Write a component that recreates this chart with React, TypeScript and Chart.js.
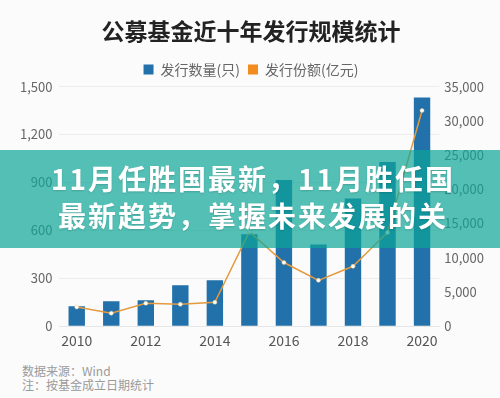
import React, { useEffect, useRef } from "react";
import { Chart, registerables } from "chart.js";

Chart.register(...registerables);

const years = ["2010", "2011", "2012", "2013", "2014", "2015", "2016", "2017", "2018", "2019", "2020"];
const fundCount = [125, 156, 162, 256, 288, 575, 915, 512, 800, 1028, 1432];
const issueAmount = [2800, 1900, 3350, 3200, 3500, 13800, 9300, 6700, 8750, 13700, 31500];
const leftTicks = [0, 300, 600, 900, 1200, 1500];
const rightTicks = [0, 5000, 10000, 15000, 20000, 25000, 30000, 35000];

const titleText = "公募基金近十年发行规模统计";
const countLabel = "发行数量(只)";
const amountLabel = "发行份额(亿元)";
const bannerLine1 = "11月任胜国最新，11月胜任国";
const bannerLine2 = "最新趋势，掌握未来发展的关";
const note1 = "数据来源：Wind";
const note2 = "注：按基金成立日期统计";

const FONT = "'Noto Sans CJK SC', 'Noto Sans', sans-serif";

export default function App() {
  const ref = useRef<HTMLCanvasElement | null>(null);

  useEffect(() => {
    document.body.style.margin = "0";
    const canvas = ref.current;
    if (!canvas) return;
    const chart = new Chart(canvas, {
      type: "bar",
      data: {
        labels: years,
        datasets: [
          {
            type: "bar",
            label: countLabel,
            data: fundCount,
            backgroundColor: "#2271aa",
            yAxisID: "y",
            barPercentage: 0.95,
            categoryPercentage: 0.5,
            order: 2,
          },
          {
            type: "line",
            label: amountLabel,
            data: issueAmount,
            borderColor: "#e49a3e",
            backgroundColor: "#f28c1e",
            borderWidth: 1.5,
            pointRadius: 2,
            pointBackgroundColor: "#ffffff",
            pointBorderColor: "#f0c890",
            pointBorderWidth: 0.5,
            yAxisID: "y1",
            tension: 0,
            order: 1,
          } as any,
        ],
      },
      options: {
        responsive: false,
        animation: false,
        devicePixelRatio: 1,
        layout: { padding: { top: 0, left: 13, right: 11, bottom: 5 } },
        plugins: {
          title: {
            display: true,
            text: titleText,
            color: "#222222",
            font: { family: FONT, size: 23, weight: "bold" },
            padding: { top: 17, bottom: 10 },
          },
          legend: {
            display: true,
            labels: {
              boxWidth: 10,
              boxHeight: 10,
              color: "#666666",
              font: { family: FONT, size: 14 },
              padding: 8,
              generateLabels: (c: any) => {
                const ds = c.data.datasets;
                return ds.map((d: any, i: number) => ({
                  text: d.label,
                  fillStyle: i === 0 ? "#2271aa" : "#f28c1e",
                  strokeStyle: i === 0 ? "#2271aa" : "#f28c1e",
                  lineWidth: 0,
                  fontColor: "#666666",
                  hidden: false,
                  datasetIndex: i,
                }));
              },
            },
          },
          tooltip: { enabled: false },
        },
        scales: {
          x: {
            grid: { display: false, drawTicks: false },
            border: { display: true, color: "#e6e6e6" },
            ticks: {
              autoSkip: false,
              maxRotation: 0,
              padding: 6,
              color: "#555555",
              font: { family: FONT, size: 14 },
              callback: (_v: any, i: number) => (i % 2 === 0 ? years[i] : ""),
            },
          },
          y: {
            position: "left",
            min: leftTicks[0],
            max: leftTicks[leftTicks.length - 1],
            afterBuildTicks: (axis: any) => {
              axis.ticks = leftTicks.map((v) => ({ value: v }));
            },
            grid: { color: "#ececec", drawTicks: false },
            border: { display: false },
            ticks: {
              padding: 7,
              color: "#666666",
              font: { family: FONT, size: 13 },
              callback: (v: any) => Number(v).toLocaleString("en-US"),
            },
          },
          y1: {
            position: "right",
            min: rightTicks[0],
            max: rightTicks[rightTicks.length - 1],
            afterBuildTicks: (axis: any) => {
              axis.ticks = rightTicks.map((v) => ({ value: v }));
            },
            grid: { drawOnChartArea: false, drawTicks: false },
            border: { display: false },
            ticks: {
              padding: 5,
              color: "#666666",
              font: { family: FONT, size: 13 },
              callback: (v: any) => Number(v).toLocaleString("en-US"),
            },
          },
        },
      },
    });
    return () => chart.destroy();
  }, []);

  return (
    <div
      style={{
        position: "fixed",
        left: 0,
        top: 0,
        width: 500,
        height: 398,
        background: "#fbfbfc",
        overflow: "hidden",
        fontFamily: FONT,
      }}
    >
      <canvas ref={ref} width={500} height={360} style={{ position: "absolute", left: 0, top: 0 }} />
      <div
        style={{
          position: "absolute",
          left: 0,
          top: 150,
          width: 500,
          height: 98,
          background: "rgba(11,165,151,0.7)",
          color: "#ffffff",
          fontWeight: "bold",
          fontSize: 28,
          lineHeight: "37px",
          letterSpacing: 2,
          textAlign: "center",
          paddingTop: 10,
          boxSizing: "border-box",
          textShadow: "0 1px 2px rgba(0,0,0,0.15)",
        }}
      >
        <div style={{ paddingLeft: 6 }}>{bannerLine1}</div>
        <div style={{ paddingLeft: 6 }}>{bannerLine2}</div>
      </div>
      <div
        style={{
          position: "absolute",
          left: 22,
          top: 364,
          fontSize: 12,
          lineHeight: "14px",
          color: "#9a9a9a",
        }}
      >
        <div>{note1}</div>
        <div>{note2}</div>
      </div>
    </div>
  );
}
